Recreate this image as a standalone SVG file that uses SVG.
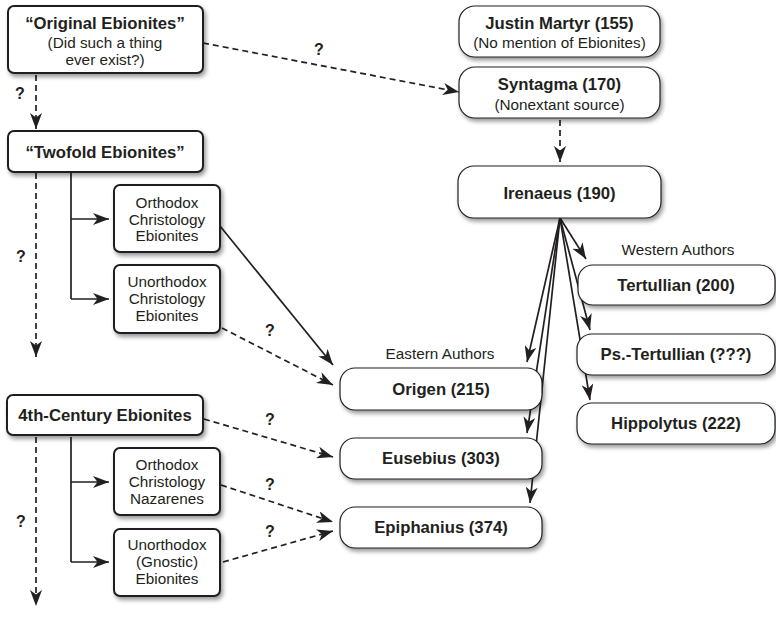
<svg xmlns="http://www.w3.org/2000/svg" width="776" height="623" viewBox="0 0 776 623">
<style>
text{font-family:"Liberation Sans",Arial,sans-serif;fill:#231f20;text-anchor:middle}
.b{font-weight:bold;font-size:16.7px}
.r{font-size:15.3px}
.q{font-weight:bold;font-size:16px}
.lb{fill:#fff;stroke:#231f20;stroke-width:2}
.rb{fill:#fff;stroke:#231f20;stroke-width:1.2}
.c{fill:none;stroke:#231f20;stroke-width:1.7}
.d{fill:none;stroke:#231f20;stroke-width:1.7;stroke-dasharray:6 4}
</style>
<defs>
<filter id="sh" x="-10%" y="-20%" width="130%" height="150%">
<feDropShadow dx="2" dy="3" stdDeviation="2" flood-color="#000" flood-opacity="0.4"/>
</filter>
<marker id="ah" markerUnits="userSpaceOnUse" markerWidth="17" markerHeight="12" refX="16" refY="6" orient="auto">
<path d="M0,0 L16,6 L0,12 L4.5,6 Z" fill="#231f20"/>
</marker>
</defs>
<g id="connectors">
<path class="d" d="M203,43 L459,92" marker-end="url(#ah)"/>
<path class="d" d="M36,75 L36,129" marker-end="url(#ah)"/>
<path class="d" d="M36,173 L36,357" marker-end="url(#ah)"/>
<path class="c" d="M71,173 L71,299"/>
<path class="c" d="M71,219 L109,219" marker-end="url(#ah)"/>
<path class="c" d="M71,299 L109,299" marker-end="url(#ah)"/>
<path class="d" d="M36,437 L36,606" marker-end="url(#ah)"/>
<path class="c" d="M71,437 L71,562"/>
<path class="c" d="M71,482 L109,482" marker-end="url(#ah)"/>
<path class="c" d="M71,562 L109,562" marker-end="url(#ah)"/>
<path class="c" d="M220,226 L333,365" marker-end="url(#ah)"/>
<path class="d" d="M222,328 L333,385" marker-end="url(#ah)"/>
<path class="d" d="M204,419 L333,457" marker-end="url(#ah)"/>
<path class="d" d="M221,485 L333,522" marker-end="url(#ah)"/>
<path class="d" d="M223,562 L333,531" marker-end="url(#ah)"/>
<path class="d" d="M560,120 L560,162" marker-end="url(#ah)"/>
<path class="c" d="M560,218 L586,259" marker-end="url(#ah)"/>
<path class="c" d="M560,218 L590,330" marker-end="url(#ah)"/>
<path class="c" d="M560,218 L590,400" marker-end="url(#ah)"/>
<path class="c" d="M560,218 L527,362" marker-end="url(#ah)"/>
<path class="c" d="M560,218 L527,433" marker-end="url(#ah)"/>
<path class="c" d="M560,218 L530,503" marker-end="url(#ah)"/>
<text class="q" x="20" y="99">?</text>
<text class="q" x="21" y="262">?</text>
<text class="q" x="21" y="527">?</text>
<text class="q" x="319" y="55">?</text>
<text class="q" x="270" y="336">?</text>
<text class="q" x="270" y="425">?</text>
<text class="q" x="270" y="490">?</text>
<text class="q" x="270" y="537">?</text>
</g>
<g id="original">
<rect class="lb" filter="url(#sh)" x="8" y="6" width="195" height="67" rx="6"/>
<text class="b" x="105" y="29">“Original Ebionites”</text>
<text class="r" x="105" y="48">(Did such a thing</text>
<text class="r" x="105" y="65">ever exist?)</text>
</g>
<g id="twofold">
<rect class="lb" filter="url(#sh)" x="8" y="131" width="195" height="41" rx="6"/>
<text class="b" x="105" y="158">“Twofold Ebionites”</text>
</g>
<g id="orthodox-ebionites">
<rect class="lb" filter="url(#sh)" x="114" y="185" width="106" height="67" rx="6"/>
<text class="r" x="167" y="208">Orthodox</text>
<text class="r" x="167" y="224.5">Christology</text>
<text class="r" x="167" y="241">Ebionites</text>
</g>
<g id="unorthodox-ebionites">
<rect class="lb" filter="url(#sh)" x="114" y="265" width="106" height="68" rx="6"/>
<text class="r" x="167" y="287">Unorthodox</text>
<text class="r" x="167" y="304">Christology</text>
<text class="r" x="167" y="321">Ebionites</text>
</g>
<g id="fourth-century">
<rect class="lb" filter="url(#sh)" x="7" y="395" width="196" height="40" rx="6"/>
<text class="b" x="105" y="421">4th-Century Ebionites</text>
</g>
<g id="nazarenes">
<rect class="lb" filter="url(#sh)" x="114" y="448" width="106" height="67" rx="6"/>
<text class="r" x="167" y="470">Orthodox</text>
<text class="r" x="167" y="487">Christology</text>
<text class="r" x="167" y="504">Nazarenes</text>
</g>
<g id="gnostic">
<rect class="lb" filter="url(#sh)" x="114" y="529" width="106" height="67" rx="6"/>
<text class="r" x="167" y="550">Unorthodox</text>
<text class="r" x="167" y="567">(Gnostic)</text>
<text class="r" x="167" y="584">Ebionites</text>
</g>
<g id="justin">
<rect class="rb" filter="url(#sh)" x="459" y="6" width="201" height="51" rx="16"/>
<text class="b" x="559.5" y="29">Justin Martyr (155)</text>
<text class="r" x="559.5" y="48">(No mention of Ebionites)</text>
</g>
<g id="syntagma">
<rect class="rb" filter="url(#sh)" x="459" y="67" width="201" height="51" rx="16"/>
<text class="b" x="559.5" y="90">Syntagma (170)</text>
<text class="r" x="559.5" y="110">(Nonextant source)</text>
</g>
<g id="irenaeus">
<rect class="rb" filter="url(#sh)" x="458" y="166" width="203" height="52" rx="16"/>
<text class="b" x="559.5" y="199">Irenaeus (190)</text>
</g>
<g id="western">
<text class="r" x="678" y="255">Western Authors</text>
<rect class="rb" filter="url(#sh)" x="578" y="265" width="197" height="40" rx="15"/>
<text class="b" x="676" y="291">Tertullian (200)</text>
</g>
<g id="ps-tertullian">
<rect class="rb" filter="url(#sh)" x="577" y="334" width="198" height="41" rx="15"/>
<text class="b" x="676" y="360">Ps.-Tertullian (???)</text>
</g>
<g id="hippolytus">
<rect class="rb" filter="url(#sh)" x="577" y="403" width="198" height="41" rx="15"/>
<text class="b" x="676" y="429">Hippolytus (222)</text>
</g>
<g id="origen">
<text class="r" x="440" y="359">Eastern Authors</text>
<rect class="rb" filter="url(#sh)" x="340" y="368" width="202" height="42" rx="15"/>
<text class="b" x="441" y="395">Origen (215)</text>
</g>
<g id="eusebius">
<rect class="rb" filter="url(#sh)" x="340" y="438" width="202" height="41" rx="15"/>
<text class="b" x="441" y="464">Eusebius (303)</text>
</g>
<g id="epiphanius">
<rect class="rb" filter="url(#sh)" x="340" y="507" width="202" height="41" rx="15"/>
<text class="b" x="441" y="533">Epiphanius (374)</text>
</g>
</svg>
